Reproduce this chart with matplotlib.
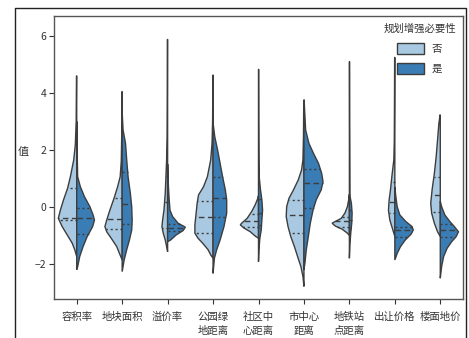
import numpy as np
import matplotlib
matplotlib.use("Agg")
import matplotlib.pyplot as plt
from matplotlib.patches import Patch
from matplotlib.lines import Line2D

plt.rcParams['font.family'] = ['Noto Sans CJK SC', 'DejaVu Sans']
plt.rcParams['axes.unicode_minus'] = True

categories = ["容积率", "地块面积", "溢价率", "公园绿\n地距离", "社区中\n心距离",
              "市中心\n距离", "地铁站\n点距离", "出让价格", "楼面地价"]
hue_labels = ["否", "是"]
legend_title = "规划增强必要性"
y_label = "值"

# Density outlines for the "否" half of each violin: value levels and half-widths
no_levels = [
    [4.6, 3.0, 2.2, 1.65, 1.06, 0.66, 0.25, -0.11, -0.40, -0.69, -0.98, -1.27, -1.5, -1.74],
    [4.05, 2.5, 1.6, 1.06, 0.71, 0.30, -0.11, -0.46, -0.69, -0.87, -1.1, -1.39, -1.63, -1.86],
    [5.88, 4.0, 2.5, 1.65, 1.06, 0.48, -0.11, -0.46, -0.69, -0.92, -1.16, -1.39, -1.57],
    [4.63, 3.0, 2.23, 1.65, 1.06, 0.71, 0.42, 0.13, -0.34, -0.63, -0.92, -1.1, -1.27, -1.5, -1.68, -1.8],
    [0.4, 0.30, 0.07, -0.16, -0.40, -0.57, -0.63, -0.75, -0.87, -1.02, -1.1],
    [3.75, 2.5, 1.65, 1.3, 0.95, 0.6, 0.3, 0.01, -0.34, -0.69, -1.04, -1.39, -1.74, -2.1, -2.44, -2.79],
    [0.45, 0.25, 0.01, -0.22, -0.40, -0.51, -0.57, -0.67, -0.78, -0.92, -1.0],
    [5.25, 3.5, 2.3, 1.65, 1.06, 0.6, 0.25, -0.11, -0.46, -0.69, -0.92, -1.04],
    [3.23, 2.94, 2.35, 1.77, 1.18, 0.6, 0.13, -0.22, -0.57, -0.87, -1.04],
]
no_widths = [
    [0.005, 0.012, 0.03, 0.066, 0.14, 0.20, 0.29, 0.36, 0.405, 0.32, 0.21, 0.10, 0.044, 0.0],
    [0.004, 0.01, 0.02, 0.044, 0.10, 0.18, 0.27, 0.34, 0.38, 0.34, 0.24, 0.12, 0.06, 0.0],
    [0.004, 0.006, 0.01, 0.022, 0.037, 0.052, 0.08, 0.11, 0.125, 0.096, 0.052, 0.022, 0.0],
    [0.004, 0.01, 0.022, 0.052, 0.125, 0.21, 0.32, 0.35, 0.38, 0.40, 0.40, 0.33, 0.23, 0.11, 0.052, 0.0],
    [0.0, 0.015, 0.074, 0.15, 0.25, 0.37, 0.40, 0.31, 0.18, 0.074, 0.0],
    [0.004, 0.01, 0.022, 0.052, 0.125, 0.23, 0.33, 0.38, 0.39, 0.35, 0.29, 0.21, 0.14, 0.066, 0.022, 0.0],
    [0.0, 0.015, 0.044, 0.10, 0.18, 0.31, 0.38, 0.31, 0.16, 0.044, 0.0],
    [0.004, 0.008, 0.012, 0.022, 0.066, 0.096, 0.125, 0.14, 0.11, 0.066, 0.022, 0.0],
    [0.004, 0.03, 0.06, 0.09, 0.13, 0.18, 0.21, 0.19, 0.13, 0.06, 0.0],
]
# Lower quartile, median, upper quartile of the "否" group
no_quartiles = [
    (-0.45, -0.40, 0.66), (-0.76, -0.43, 0.30), (-0.73, 0.16, 1.10),
    (-0.90, -0.36, 0.21), (-0.69, -0.51, -0.25), (-0.91, -0.28, 0.25),
    (-0.69, -0.51, -0.36), (-0.22, 0.16, 0.89), (-0.19, 0.42, 1.05),
]

# Density outlines for the "是" half
yes_levels = [
    [3.0, 2.0, 1.06, 0.71, 0.36, 0.01, -0.28, -0.46, -0.69, -1.04, -1.39, -1.74, -2.1, -2.2],
    [3.2, 2.7, 2.23, 1.65, 1.06, 0.48, 0.01, -0.46, -0.81, -1.16, -1.5, -1.86, -2.27],
    [1.5, 0.83, 0.36, -0.11, -0.34, -0.57, -0.71, -0.83, -0.98, -1.16, -1.22],
    [2.9, 2.47, 2.0, 1.53, 1.06, 0.6, 0.25, -0.22, -0.69, -1.16, -1.5, -1.8, -2.33],
    [4.83, 3.0, 1.8, 1.06, 0.6, 0.25, -0.11, -0.46, -0.81, -1.1, -1.5, -1.92],
    [3.75, 2.7, 2.23, 1.88, 1.53, 1.18, 0.89, 0.6, 0.25, -0.11, -0.57, -1.04, -1.5, -1.97, -2.2],
    [5.1, 3.0, 1.5, 0.48, 0.36, 0.13, -0.22, -0.57, -0.92, -1.3, -1.8],
    [0.7, 0.36, 0.01, -0.28, -0.51, -0.69, -0.81, -0.95, -1.16, -1.39, -1.63, -1.86],
    [0.2, 0.01, -0.28, -0.51, -0.69, -0.87, -1.04, -1.22, -1.45, -1.74, -2.09, -2.5],
]
yes_widths = [
    [0.004, 0.01, 0.02, 0.08, 0.17, 0.29, 0.36, 0.39, 0.35, 0.23, 0.14, 0.066, 0.02, 0.0],
    [0.004, 0.02, 0.074, 0.10, 0.13, 0.18, 0.21, 0.22, 0.21, 0.16, 0.10, 0.044, 0.0],
    [0.004, 0.015, 0.03, 0.052, 0.11, 0.23, 0.39, 0.34, 0.19, 0.066, 0.0],
    [0.004, 0.037, 0.10, 0.155, 0.21, 0.27, 0.30, 0.30, 0.24, 0.155, 0.08, 0.03, 0.0],
    [0.004, 0.006, 0.01, 0.015, 0.044, 0.074, 0.09, 0.074, 0.06, 0.03, 0.01, 0.0],
    [0.004, 0.037, 0.11, 0.21, 0.32, 0.39, 0.42, 0.38, 0.27, 0.20, 0.14, 0.096, 0.052, 0.022, 0.0],
    [0.004, 0.006, 0.01, 0.012, 0.015, 0.044, 0.06, 0.052, 0.03, 0.012, 0.0],
    [0.0, 0.022, 0.052, 0.11, 0.24, 0.38, 0.405, 0.36, 0.23, 0.125, 0.052, 0.0],
    [0.0, 0.03, 0.10, 0.21, 0.31, 0.40, 0.35, 0.25, 0.15, 0.074, 0.03, 0.0],
]
yes_quartiles = [
    (-0.95, -0.40, -0.05), (-0.60, 0.09, 1.24), (-0.85, -0.73, -0.60),
    (-0.37, 0.33, 1.05), (-0.63, -0.22, 0.27), (-0.05, 0.85, 1.32),
    (-0.75, -0.46, -0.11), (-1.06, -0.81, -0.69), (-1.07, -0.81, -0.60),
]

light = "#a9c9e2"
dark = "#3a7cb4"
edge = "#3d3d3d"

fig = plt.figure(figsize=(4.69, 3.38), dpi=100)
ax = fig.add_axes([54 / 469, 1 - 299 / 338, (463 - 54) / 469, (299 - 16) / 338])


def draw_half(ax, pos, levels, widths, quartiles, side, color):
    v = np.asarray(levels, dtype=float)
    w = np.asarray(widths, dtype=float)
    xs = pos + side * w
    px = np.r_[xs, pos, pos]
    py = np.r_[v, v[-1], v[0]]
    ax.fill(px, py, facecolor=color, edgecolor=edge, linewidth=1.0, zorder=2)
    order = np.argsort(v)
    for q, ls in zip(quartiles, [(0, (1.5, 2.0)), (0, (4.0, 2.5)), (0, (1.5, 2.0))]):
        hw = np.interp(q, v[order], w[order])
        ax.plot([pos, pos + side * hw], [q, q], color=edge, linewidth=1.0,
                linestyle=ls, zorder=3)


for i in range(len(categories)):
    draw_half(ax, i, no_levels[i], no_widths[i], no_quartiles[i], -1, light)
    draw_half(ax, i, yes_levels[i], yes_widths[i], yes_quartiles[i], 1, dark)

ax.set_xlim(-0.5, len(categories) - 0.5)
ax.set_ylim(-3.23, 6.7)
ax.set_xticks(range(len(categories)))
ax.set_xticklabels(categories, fontsize=7.5, color="#333333", linespacing=1.45)
ax.set_yticks([-2, 0, 2, 4, 6])
ax.tick_params(axis="y", labelsize=7.5, colors="#333333", length=3.5, pad=2)
ax.tick_params(axis="x", length=3.5, colors="#333333", pad=6)
ax.set_ylabel(y_label, fontsize=8, rotation=0, color="#333333", va="center", ha="center")
ax.yaxis.set_label_coords((23 - 54) / 409, (299 - 152) / 283)
for s in ax.spines.values():
    s.set_color("#555555")
    s.set_linewidth(1.0)

handles = [Patch(facecolor=light, edgecolor=edge, linewidth=1.0),
           Patch(facecolor=dark, edgecolor=edge, linewidth=1.0)]
leg = ax.legend(handles, hue_labels, title=legend_title, loc="upper right",
                frameon=False, fontsize=7.5, title_fontsize=7.5,
                handlelength=2.6, handleheight=1.2, labelspacing=0.9,
                borderaxespad=0.3)
leg.get_title().set_color("#333333")
for t in leg.get_texts():
    t.set_color("#333333")

# Outer frame around the figure content
fx0, fx1, fy1 = 15 / 469, 466 / 469, 1 - 8 / 338
fig.add_artist(Line2D([fx0, fx0, fx1, fx1], [0, fy1, fy1, 0],
                      transform=fig.transFigure, color="#222222", linewidth=1.0))

fig.savefig("out.png", dpi=100)
